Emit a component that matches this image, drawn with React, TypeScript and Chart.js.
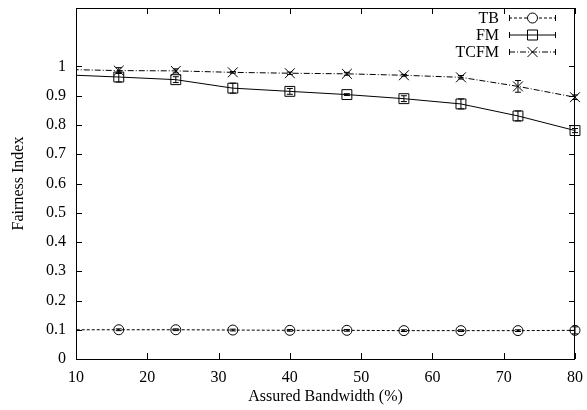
import React, { useEffect, useRef } from 'react';
import { Chart, registerables } from 'chart.js';

Chart.register(...registerables);

// ---- data ----
const xValues = [8, 16, 24, 32, 40, 48, 56, 64, 72, 80];
const seriesNames = ['TB', 'FM', 'TCFM'];
const tbValues = [0.1, 0.1, 0.1, 0.099, 0.098, 0.098, 0.097, 0.097, 0.097, 0.098];
const tbErrors = [0, 0.003, 0.003, 0.003, 0.003, 0.003, 0.003, 0.003, 0.003, 0.012];
const fmValues = [0.972, 0.964, 0.955, 0.926, 0.915, 0.904, 0.89, 0.872, 0.831, 0.781];
const fmErrors = [0, 0.017, 0.01, 0.017, 0.01, 0.003, 0.01, 0.017, 0.017, 0.007];
const tcfmValues = [0.99, 0.986, 0.985, 0.98, 0.977, 0.975, 0.97, 0.963, 0.932, 0.895];
const tcfmErrors = [0, 0.01, 0.007, 0.003, 0.004, 0.005, 0.003, 0.006, 0.02, 0.008];
const xTickValues = [10, 20, 30, 40, 50, 60, 70, 80];
const yTickValues = [0, 0.1, 0.2, 0.3, 0.4, 0.5, 0.6, 0.7, 0.8, 0.9, 1];
const xTitle = 'Assured Bandwidth (%)';
const yTitle = 'Fairness Index';

const FONT = '"Liberation Serif", "Times New Roman", serif';
const FONT_SIZE = 16;

const dashes: number[][] = [[3, 2], [], [6, 2, 1, 2]];
const markers = ['circle', 'rect', 'crossRot'];
const errorSets = [tbErrors, fmErrors, tcfmErrors];

function drawMarker(ctx: CanvasRenderingContext2D, kind: string, x: number, y: number) {
  ctx.save();
  ctx.setLineDash([]);
  ctx.strokeStyle = '#000';
  ctx.lineWidth = 1;
  ctx.beginPath();
  if (kind === 'circle') {
    ctx.arc(x, y, 5, 0, Math.PI * 2);
  } else if (kind === 'rect') {
    ctx.rect(x - 5, y - 5, 10, 10);
  } else {
    ctx.moveTo(x - 5, y - 5);
    ctx.lineTo(x + 5, y + 5);
    ctx.moveTo(x + 5, y - 5);
    ctx.lineTo(x - 5, y + 5);
  }
  ctx.stroke();
  ctx.restore();
}

const errorBarPlugin = {
  id: 'errorBars',
  afterDatasetsDraw(chart: any) {
    const { ctx, chartArea, scales } = chart;
    ctx.save();
    ctx.beginPath();
    ctx.rect(chartArea.left, 0, chart.width - chartArea.left, chart.height);
    ctx.clip();
    ctx.strokeStyle = '#000';
    ctx.lineWidth = 1;
    ctx.setLineDash([]);
    chart.data.datasets.forEach((ds: any, i: number) => {
      const errs = errorSets[i];
      ds.data.forEach((p: any, j: number) => {
        const e = errs[j];
        if (!e) return;
        const x = scales.x.getPixelForValue(p.x);
        const y1 = scales.y.getPixelForValue(p.y - e);
        const y2 = scales.y.getPixelForValue(p.y + e);
        ctx.beginPath();
        ctx.moveTo(x, y1);
        ctx.lineTo(x, y2);
        ctx.moveTo(x - 3, y1);
        ctx.lineTo(x + 3, y1);
        ctx.moveTo(x - 3, y2);
        ctx.lineTo(x + 3, y2);
        ctx.stroke();
      });
    });
    ctx.restore();
  },
};

const framePlugin = {
  id: 'frame',
  afterDraw(chart: any) {
    const { ctx, chartArea, scales } = chart;
    const { left, right, top, bottom } = chartArea;
    ctx.save();
    ctx.strokeStyle = '#000';
    ctx.lineWidth = 1;
    ctx.setLineDash([]);
    ctx.strokeRect(Math.round(left) + 0.5, Math.round(top) + 0.5, Math.round(right - left) - 1, Math.round(bottom - top));
    ctx.beginPath();
    const tl = 6;
    xTickValues.forEach((v) => {
      const x = Math.round(scales.x.getPixelForValue(v)) + 0.5;
      ctx.moveTo(x, bottom);
      ctx.lineTo(x, bottom - tl);
      ctx.moveTo(x, top);
      ctx.lineTo(x, top + tl);
    });
    yTickValues.forEach((v) => {
      const y = Math.round(scales.y.getPixelForValue(v)) + 0.5;
      ctx.moveTo(left, y);
      ctx.lineTo(left + tl, y);
      ctx.moveTo(right, y);
      ctx.lineTo(right - tl, y);
    });
    ctx.stroke();

    // legend
    ctx.font = `${FONT_SIZE}px ${FONT}`;
    ctx.fillStyle = '#000';
    ctx.textAlign = 'right';
    ctx.textBaseline = 'middle';
    seriesNames.forEach((name, i) => {
      const y = 18 + i * 17;
      ctx.fillText(name, 499, y + 1);
      ctx.save();
      ctx.setLineDash(dashes[i]);
      ctx.beginPath();
      ctx.moveTo(509, y);
      ctx.lineTo(556, y);
      ctx.stroke();
      ctx.restore();
      ctx.beginPath();
      ctx.moveTo(509.5, y - 3);
      ctx.lineTo(509.5, y + 3);
      ctx.moveTo(555.5, y - 3);
      ctx.lineTo(555.5, y + 3);
      ctx.stroke();
      if (i === 0) {
        ctx.save();
        ctx.fillStyle = '#fff';
        ctx.beginPath();
        ctx.arc(532.5, y, 5, 0, Math.PI * 2);
        ctx.fill();
        ctx.restore();
      }
      drawMarker(ctx, markers[i], 532.5, y);
    });
    ctx.restore();
  },
};

function buildData() {
  const sets = [tbValues, fmValues, tcfmValues];
  return {
    datasets: sets.map((vals, i) => ({
      label: seriesNames[i],
      data: xValues.map((x, j) => ({ x, y: vals[j] })),
      borderColor: '#000',
      backgroundColor: 'rgba(0,0,0,0)',
      borderWidth: 1,
      borderDash: dashes[i],
      pointStyle: markers[i],
      pointRadius: xValues.map((x) => (x < 10 ? 0 : i === 0 ? 5 : 7)),
      pointBorderColor: '#000',
      pointBackgroundColor: 'rgba(0,0,0,0)',
      pointBorderWidth: 1,
      pointHoverRadius: 0,
      tension: 0,
      clip: { left: 0, top: 10, right: 10, bottom: 10 },
    })),
  };
}

function zeroPad(s: any) {
  s.paddingTop = 0;
  s.paddingBottom = 0;
  s.paddingLeft = 0;
  s.paddingRight = 0;
}

export default function App() {
  const ref = useRef<HTMLCanvasElement | null>(null);
  useEffect(() => {
    if (!ref.current) return;
    const chart = new Chart(ref.current, {
      type: 'line',
      data: buildData() as any,
      plugins: [errorBarPlugin, framePlugin],
      options: {
        responsive: false,
        animation: false,
        devicePixelRatio: 1,
        layout: { padding: { top: 6, right: 12, left: 0, bottom: 0 } },
        plugins: { legend: { display: false }, tooltip: { enabled: false } },
        scales: {
          x: {
            type: 'linear',
            min: 10,
            max: 80,
            grid: { display: false, drawTicks: false },
            border: { display: false },
            ticks: {
              stepSize: 10,
              color: '#000',
              padding: 9,
              font: { family: FONT, size: FONT_SIZE },
              maxRotation: 0,
            },
            title: {
              display: true,
              text: xTitle,
              color: '#000',
              font: { family: FONT, size: FONT_SIZE },
              padding: { top: 0, bottom: 4 },
            },
            afterFit: (s: any) => {
              s.height = 51;
              zeroPad(s);
            },
          },
          y: {
            type: 'linear',
            min: 0,
            max: 1.2,
            grid: { display: false, drawTicks: false },
            border: { display: false },
            afterBuildTicks: (s: any) => {
              s.ticks = yTickValues.map((v) => ({ value: v }));
            },
            ticks: {
              color: '#000',
              padding: 10,
              font: { family: FONT, size: FONT_SIZE },
              callback: (v: any) => String(Math.round(Number(v) * 10) / 10),
            },
            title: {
              display: true,
              text: yTitle,
              color: '#000',
              font: { family: FONT, size: FONT_SIZE },
              padding: { top: 9, bottom: 0 },
            },
            afterFit: (s: any) => {
              s.width = 76;
              zeroPad(s);
            },
          },
        },
      } as any,
    });
    return () => chart.destroy();
  }, []);
  return (
    <div style={{ position: 'fixed', left: 0, top: 0, width: 587, height: 410, background: '#fff' }}>
      <canvas ref={ref} width={587} height={410} style={{ display: 'block' }} />
    </div>
  );
}
